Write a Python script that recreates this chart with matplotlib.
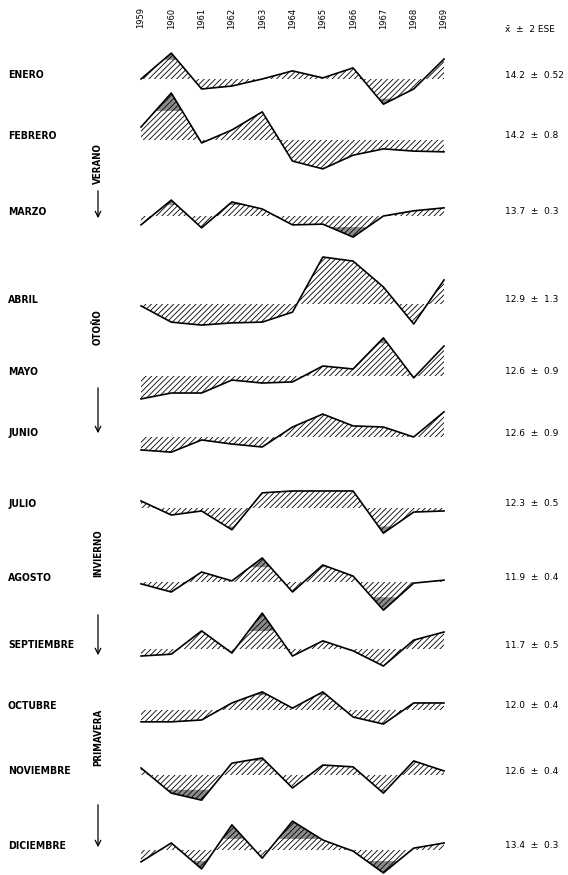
"""plot.py
monthly anomalies 1959-1969, one hatched trace per month
"""
import numpy as np
import matplotlib.pyplot as plt

years = np.arange(1959, 1970)
year_labels = ['1959', '1960', '1961', '1962', '1963', '1964',
               '1965', '1966', '1967', '1968', '1969']

months = ['ENERO', 'FEBRERO', 'MARZO', 'ABRIL', 'MAYO', 'JUNIO', 'JULIO',
          'AGOSTO', 'SEPTIEMBRE', 'OCTUBRE', 'NOVIEMBRE', 'DICIEMBRE']
means = [14.2, 14.2, 13.7, 12.9, 12.6, 12.6, 12.3, 11.9, 11.7, 12.0, 12.6, 13.4]
ese2 = [0.52, 0.8, 0.3, 1.3, 0.9, 0.9, 0.5, 0.4, 0.5, 0.4, 0.4, 0.3]
ese_text = ['0.52', '0.8', '0.3', '1.3', '0.9', '0.9', '0.5', '0.4', '0.5',
            '0.4', '0.4', '0.3']

enero = [14.20, 14.90, 13.93, 14.01, 14.20, 14.42, 14.23, 14.50, 13.52, 13.93, 14.74]
febrero = [14.55, 15.47, 14.12, 14.47, 14.96, 13.63, 13.42, 13.79, 13.96, 13.90, 13.88]
marzo = [13.46, 14.13, 13.38, 14.08, 13.89, 13.46, 13.48, 13.13, 13.70, 13.84, 13.92]
abril = [12.85, 12.41, 12.33, 12.39, 12.41, 12.68, 14.17, 14.06, 13.36, 12.36, 13.55]
mayo = [11.98, 12.14, 12.14, 12.49, 12.41, 12.44, 12.87, 12.79, 13.63, 12.55, 13.41]
junio = [12.25, 12.19, 12.52, 12.41, 12.33, 12.87, 13.22, 12.90, 12.87, 12.60, 13.28]
julio = [12.49, 12.11, 12.22, 11.71, 12.71, 12.76, 12.76, 12.76, 11.62, 12.19, 12.22]
agosto = [11.85, 11.63, 12.17, 11.93, 12.55, 11.63, 12.36, 12.06, 11.14, 11.87, 11.95]
septiembre = [11.51, 11.56, 12.19, 11.59, 12.67, 11.51, 11.92, 11.65, 11.24, 11.94, 12.16]
octubre = [11.68, 11.68, 11.73, 12.19, 12.49, 12.05, 12.49, 11.81, 11.62, 12.19, 12.19]
noviembre = [12.79, 12.11, 11.92, 12.92, 13.06, 12.25, 12.87, 12.82, 12.11, 12.98, 12.71]
diciembre = [13.08, 13.59, 12.89, 14.08, 13.18, 14.18, 13.67, 13.37, 12.78, 13.45, 13.59]
series = [enero, febrero, marzo, abril, mayo, junio, julio, agosto,
          septiembre, octubre, noviembre, diciembre]

seasons = ['VERANO', 'OTOÑO', 'INVIERNO', 'PRIMAVERA']

# ======= layout (pixels of a 568x875 figure) ========
W, H = 568, 875
baselines = [79, 140, 216, 304, 376, 437, 508, 582, 649, 710, 775, 850]
PX_PER_DEG = 37.0
HALF = 60          # half height of each strip, px
X0, STEP = 141, 30.3   # pixel x of 1959 and spacing per year

season_text_y = [164, 327, 553, 737]
season_arrow = [(188, 221), (385, 436), (612, 658), (802, 850)]

plt.rcParams['hatch.linewidth'] = 0.6
fig = plt.figure(figsize=(W / 100, H / 100), dpi=100)

# background axes in pixel units for the labels
bg = fig.add_axes([0, 0, 1, 1])
bg.set_xlim(0, W)
bg.set_ylim(H, 0)
bg.axis('off')

for i, (name, mean, e, vals) in enumerate(zip(months, means, ese2, series)):
    vals = np.asarray(vals)
    base = baselines[i]
    left = X0 - STEP
    ax = fig.add_axes([left / W, 1 - (base + HALF) / H,
                       12 * STEP / W, 2 * HALF / H])
    ax.set_xlim(1958, 1970)
    ax.set_ylim(mean - HALF / PX_PER_DEG, mean + HALF / PX_PER_DEG)
    ax.axis('off')
    ax.patch.set_alpha(0)

    # stippled part: beyond mean +/- 2 ESE
    up, lo = mean + e, mean - e
    ax.fill_between(years, vals, up, where=vals > up, interpolate=True,
                    color='0.55', linewidth=0)
    ax.fill_between(years, vals, lo, where=vals < lo, interpolate=True,
                    color='0.55', linewidth=0)
    # hatched area between trace and mean
    ax.fill_between(years, vals, mean, facecolor='none', edgecolor='k',
                    hatch='//////', linewidth=0)
    ax.plot(years, vals, color='k', lw=1.2)

    bg.text(8, base - 4, name, fontsize=7.5, fontweight='bold',
            fontstretch='condensed', va='center', ha='left')
    bg.text(505, base - 4, f'{mean:.1f}  ±  {ese_text[i]}', fontsize=6.5,
            va='center', ha='left')

for k, yr in enumerate(year_labels):
    bg.text(X0 + k * STEP, 18, yr, fontsize=6, rotation=90,
            ha='center', va='center')
bg.text(505, 30, 'x̄  ±  2 ESE', fontsize=6.5, va='center', ha='left')

for s, ty, (a0, a1) in zip(seasons, season_text_y, season_arrow):
    bg.text(98, ty, s, fontsize=7, fontweight='bold', fontstretch='condensed',
            rotation=90, ha='center', va='center')
    bg.annotate('', xy=(98, a1), xytext=(98, a0),
                arrowprops=dict(arrowstyle='->', lw=0.9, color='k'))

fig.savefig('out.png', dpi=100, facecolor='white')
